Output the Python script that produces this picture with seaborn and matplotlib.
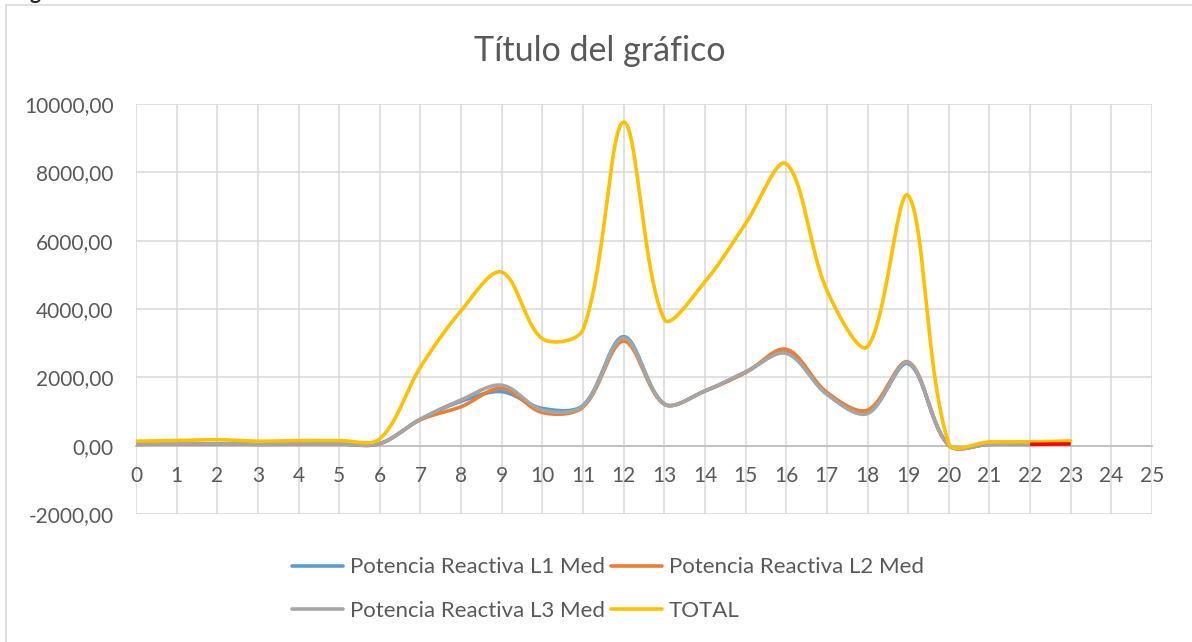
import numpy as np
import pandas as pd
import matplotlib
matplotlib.use("Agg")
import matplotlib.pyplot as plt
import seaborn as sns
from matplotlib.lines import Line2D
from matplotlib.patches import Rectangle

# hours of the day and reactive power per phase
hours = list(range(24))
l1 = [40, 50, 60, 40, 50, 50, 60, 770, 1300, 1580, 1090, 1180, 3190, 1220, 1600, 2150,
      2720, 1520, 960, 2400, 10, 40, 40]
l2 = [40, 50, 55, 40, 50, 50, 60, 760, 1140, 1680, 970, 1130, 3060, 1210, 1600, 2140,
      2820, 1560, 1040, 2450, 10, 40, 40]
l3 = [40, 50, 55, 40, 50, 50, 60, 780, 1340, 1770, 1040, 1160, 3150, 1220, 1600, 2160,
      2700, 1500, 940, 2430, 10, 40, 40]
total = [130, 150, 175, 130, 150, 150, 200, 2300, 3950, 5080, 3130, 3400, 9470, 3700,
         4800, 6500, 8250, 4550, 2900, 7320, 60, 110, 110, 140]
extra_hours = [22, 23]
extra = [40, 50]   # short red piece at the end, no legend entry

names = ["Potencia Reactiva L1 Med", "Potencia Reactiva L2 Med",
         "Potencia Reactiva L3 Med", "TOTAL"]
colors = ["#5B9BD5", "#ED7D31", "#A5A5A5", "#FFC000"]

# pixels per unit on screen, so the smoothing behaves like excel's
SX, SY = 40.64, 0.03415


def smooth(xs, ys, n=40):
    # bezier through the points, control arms scaled by the chord lengths
    px = np.asarray(xs, float) * SX
    py = np.asarray(ys, float) * SY
    k = len(px)
    if k < 3:
        return np.asarray(xs, float), np.asarray(ys, float)
    cin = np.zeros((k, 2))
    cout = np.zeros((k, 2))
    P = np.column_stack([px, py])
    for i in range(k):
        if i == 0 or i == k - 1:
            cin[i] = P[i]
            cout[i] = P[i]
            continue
        d = P[i + 1] - P[i - 1]
        a = np.hypot(*(P[i] - P[i - 1]))
        b = np.hypot(*(P[i + 1] - P[i]))
        cin[i] = P[i] - d * a / (a + b) / 3
        cout[i] = P[i] + d * b / (a + b) / 3
    cout[0] = P[0] + (cin[1] - P[0]) / 2
    cin[-1] = P[-1] + (cout[-2] - P[-1]) / 2
    t = np.linspace(0, 1, n, endpoint=False)[:, None]
    pts = []
    for i in range(k - 1):
        seg = ((1 - t)**3 * P[i] + 3 * (1 - t)**2 * t * cout[i]
               + 3 * (1 - t) * t**2 * cin[i + 1] + t**3 * P[i + 1])
        pts.append(seg)
    pts.append(P[-1][None, :])
    pts = np.vstack(pts)
    return pts[:, 0] / SX, pts[:, 1] / SY


frames = []
for name, vals in zip(names, [l1, l2, l3, total]):
    sx, sy = smooth(hours[:len(vals)], vals)
    frames.append(pd.DataFrame({"hora": sx, "valor": sy, "serie": name}))
df = pd.concat(frames, ignore_index=True)

sns.set_style("white")
plt.rcParams["font.family"] = ["Lato", "DejaVu Sans"]

fig = plt.figure(figsize=(11.92, 6.42), dpi=100)
ax = fig.add_axes([136 / 1192, 1 - 514 / 642, 1016 / 1192, 410 / 642])

# outer chart border
fig.patches.append(Rectangle((6 / 1192, -0.1), 1.2, 1 - 5 / 642 + 0.1, transform=fig.transFigure,
                             fill=False, edgecolor="#d9d9d9", linewidth=1.2))
fig.text(30 / 1192, 1.0 + 1 / 642, "g", fontsize=15, fontweight="bold", va="baseline")

sns.lineplot(data=df, x="hora", y="valor", hue="serie", hue_order=names,
             palette=dict(zip(names, colors)), estimator=None, sort=False,
             linewidth=2.6, legend=False, ax=ax)
ax.plot(extra_hours, extra, color="#FF0000", linewidth=2.6, solid_capstyle="butt")

ax.set_xlim(0, 25)
ax.set_ylim(-2000, 10000)
ax.set_xticks(range(26))
ax.set_yticks(range(-2000, 10001, 2000))
ax.set_yticklabels([f"{v},00" for v in range(-2000, 10001, 2000)])
ax.grid(True, color="#d9d9d9", linewidth=1.1)
ax.set_axisbelow(True)
for s in ["top", "right", "left"]:
    ax.spines[s].set_visible(False)
ax.spines["bottom"].set_position(("data", 0))
ax.spines["bottom"].set_color("#bfbfbf")
ax.spines["bottom"].set_linewidth(1.3)
ax.spines["bottom"].set_zorder(1.5)
ax.tick_params(axis="x", length=0, pad=15, labelsize=15, labelcolor="#595959")
ax.tick_params(axis="y", length=0, pad=16, labelsize=15, labelcolor="#595959")
ax.set_xlabel("")
ax.set_ylabel("")

fig.text(600 / 1192, 1 - 51 / 642, "Título del gráfico", ha="center", va="center",
         fontsize=24.5, color="#595959")

handles = [Line2D([], [], color=c, linewidth=2.6) for c in colors]
order = [0, 2, 1, 3]
fig.legend([handles[i] for i in order], [names[i] for i in order], ncol=2,
           loc="center", bbox_to_anchor=(608 / 1192, 1 - 589 / 642), frameon=False,
           fontsize=16, handlelength=2.3, handletextpad=0.3, columnspacing=0.3,
           labelspacing=1.05, labelcolor="#595959")

fig.savefig("out.png", dpi=100, facecolor="white")
